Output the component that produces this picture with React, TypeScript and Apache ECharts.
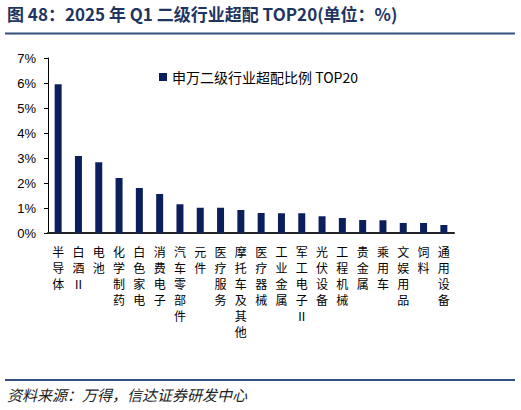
import React, { useEffect, useRef } from 'react';
import * as echarts from 'echarts';

const industries = [
  '半导体', '白酒Ⅱ', '电池', '化学制药', '白色家电', '消费电子', '汽车零部件', '元件', '医疗服务', '摩托车及其他',
  '医疗器械', '工业金属', '军工电子Ⅱ', '光伏设备', '工程机械', '贵金属', '乘用车', '文娱用品', '饲料', '通用设备',
];
const overweight = [5.95, 3.08, 2.83, 2.2, 1.8, 1.56, 1.15, 1.01, 1.01, 0.92, 0.8, 0.79, 0.79, 0.67, 0.6, 0.52, 0.51, 0.4, 0.4, 0.32];
const seriesName = '申万二级行业超配比例 TOP20';
const titleText = '图 48：2025 年 Q1 二级行业超配 TOP20(单位：%)';
const sourceText = '资料来源：万得，信达证券研发中心';

const cjk = '"Noto Sans CJK SC", sans-serif';
const navy = '#0b1f5c';

export default function App() {
  const chartRef = useRef<HTMLDivElement>(null);

  useEffect(() => {
    if (!chartRef.current) return;
    const chart = echarts.init(chartRef.current, null, { renderer: 'svg' });

    chart.setOption({
      animation: false,
      grid: { left: 48, right: 67, top: 58, bottom: 177, containLabel: false },
      legend: {
        left: 154,
        top: 65,
        icon: 'rect',
        itemWidth: 8,
        itemHeight: 8,
        itemGap: 4,
        textStyle: { fontFamily: cjk, fontSize: 14, color: '#000' },
        data: [seriesName],
      },
      xAxis: {
        type: 'category',
        data: industries,
        axisLine: { lineStyle: { color: '#222', width: 2 } },
        axisTick: { show: false },
        axisLabel: {
          interval: 0,
          margin: 10,
          fontFamily: cjk,
          fontSize: 12,
          lineHeight: 16,
          color: '#000',
          verticalAlign: 'top',
          formatter: (v: string) => v.split('').join('\n'),
        },
      },
      yAxis: {
        type: 'value',
        min: 0,
        max: 7,
        interval: 1,
        splitLine: { show: false },
        axisLine: { show: true, lineStyle: { color: '#000', width: 1 } },
        axisTick: { show: true, length: 4, lineStyle: { color: '#000' } },
        axisLabel: {
          margin: 12,
          fontFamily: '"Liberation Sans", Arial, sans-serif',
          fontSize: 13,
          color: '#000',
          formatter: '{value}%',
        },
      },
      series: [
        {
          name: seriesName,
          type: 'bar',
          data: overweight,
          barWidth: 7,
          itemStyle: { color: navy },
        },
      ],
      graphic: [
        {
          type: 'text',
          left: 7,
          top: 5,
          style: {
            text: titleText,
            fontFamily: cjk,
            fontSize: 17,
            fontWeight: 'bold',
            fill: '#1f3560',
          },
        },
        {
          type: 'line',
          shape: { x1: 5, y1: 33.5, x2: 515, y2: 33.5 },
          style: { stroke: '#34507e', lineWidth: 2 },
        },
        {
          type: 'line',
          shape: { x1: 5, y1: 380, x2: 515, y2: 380 },
          style: { stroke: '#34507e', lineWidth: 2 },
        },
        {
          type: 'text',
          left: 7,
          top: 387,
          style: {
            text: sourceText,
            fontFamily: cjk,
            fontSize: 15,
            fontStyle: 'italic',
            fill: '#222',
          },
        },
      ],
    });

    return () => {
      chart.dispose();
    };
  }, []);

  return (
    <div
      ref={chartRef}
      style={{ position: 'absolute', left: 0, top: 0, width: '521px', height: '410px', background: '#fff' }}
    />
  );
}
